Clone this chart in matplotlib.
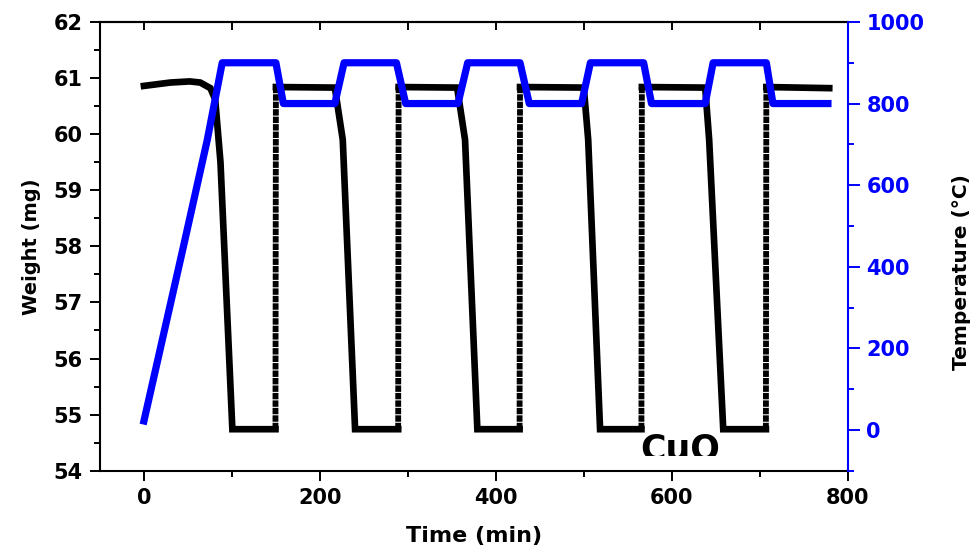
import matplotlib
matplotlib.use("Agg")
import matplotlib.pyplot as plt
from matplotlib.transforms import Bbox, TransformedBbox
from matplotlib.ticker import MultipleLocator

# weight trace (mg) vs time (min), five redox cycles
weight_time = [0, 15, 30, 52, 64, 75.5, 81, 87, 100.5, 149.5, 150,
               217, 226, 240, 289, 289.5,
               356, 365, 379, 427, 427.5,
               500, 505, 518.5, 565.5, 566,
               638, 642.5, 658.5, 707, 707.5, 779]
weight_mg = [60.86, 60.89, 60.92, 60.94, 60.92, 60.82, 60.62, 59.5, 54.74, 54.74, 60.84,
             60.83, 59.9, 54.74, 54.74, 60.84,
             60.83, 59.9, 54.74, 54.74, 60.84,
             60.83, 59.9, 54.74, 54.74, 60.84,
             60.83, 59.9, 54.74, 54.74, 60.84, 60.82]

# furnace temperature program (deg C)
temp_time = [0, 44, 72, 89, 150, 158.5, 217, 227.5, 287, 297.5, 357, 368,
             427.5, 438, 497.5, 507.5, 568, 577, 638, 647, 707.5, 715, 777.5]
temp_c = [22, 441, 711, 900, 900, 800, 800, 900, 900, 800, 800, 900,
          900, 800, 800, 900, 900, 800, 800, 900, 900, 800, 800]

plt.rcParams['font.family'] = 'DejaVu Sans'
plt.rcParams['font.weight'] = 'bold'

fig = plt.figure(figsize=(9.79, 5.49), dpi=100)
ax = fig.add_axes([0.1021, 0.1426, 0.7638, 0.8174])

# split the weight curve so the fast re-oxidation steps get the striped look
rises = [i for i in range(len(weight_time) - 1)
         if weight_time[i + 1] - weight_time[i] < 1 and weight_mg[i + 1] > weight_mg[i] + 1]
start = 0
for i in rises:
    ax.plot(weight_time[start:i + 1], weight_mg[start:i + 1], color='black', lw=4.8,
            solid_joinstyle='miter', zorder=2)
    ax.plot(weight_time[i:i + 2], weight_mg[i:i + 2], color='black', lw=4.2,
            dashes=(1.1, 0.18), dash_capstyle='butt', zorder=2)
    start = i + 1
ax.plot(weight_time[start:], weight_mg[start:], color='black', lw=4.8,
        solid_joinstyle='miter', zorder=2)

ax.set_xlim(-50, 800)
ax.set_ylim(54, 62)
ax.xaxis.set_major_locator(MultipleLocator(200))
ax.xaxis.set_minor_locator(MultipleLocator(100))
ax.yaxis.set_major_locator(MultipleLocator(1))
ax.yaxis.set_minor_locator(MultipleLocator(0.5))
ax.tick_params(which='major', length=7.5, width=1.4, direction='out', labelsize=15, pad=5)
ax.tick_params(which='minor', length=4, width=1.4, direction='out')
for s in ['left', 'bottom', 'top']:
    ax.spines[s].set_linewidth(1.5)
ax.spines['right'].set_visible(False)

top = ax.secondary_xaxis('top')
top.xaxis.set_major_locator(MultipleLocator(200))
top.xaxis.set_minor_locator(MultipleLocator(100))
top.tick_params(which='both', direction='in', length=5.5, width=1.4, labeltop=False)
top.spines['top'].set_linewidth(1.5)

ax.set_xlabel('Time (min)', fontsize=16, fontweight='bold', labelpad=13)
ax.set_ylabel('Weight (mg)', fontsize=14, fontweight='bold', labelpad=9)

label = ax.text(610, 54.2, 'CuO', fontsize=25, fontweight='bold', ha='center', va='baseline')
label.set_clip_box(TransformedBbox(Bbox([[-50, 54.26], [800, 62]]), ax.transData))
label.set_clip_on(True)

ax2 = ax.twinx()
ax2.plot(temp_time, temp_c, color='#0000ff', lw=5.2, zorder=3)
ax2.set_ylim(-100, 1000)
ax2.yaxis.set_major_locator(MultipleLocator(200))
ax2.yaxis.set_minor_locator(MultipleLocator(100))
ax2.tick_params(which='major', length=8.5, width=1.4, colors='#0000ff', labelsize=15, pad=5)
ax2.tick_params(which='minor', length=4.5, width=1.4, colors='#0000ff')
for s in ['left', 'top', 'bottom']:
    ax2.spines[s].set_visible(False)
ax2.spines['right'].set_color('#0000ff')
ax2.spines['right'].set_linewidth(1.5)
ax2.set_ylabel('Temperature (°C)', fontsize=14.5, fontweight='bold', color='black', labelpad=20)
ax2.yaxis.label.set_y(0.443)

fig.savefig('out.png', dpi=100)
